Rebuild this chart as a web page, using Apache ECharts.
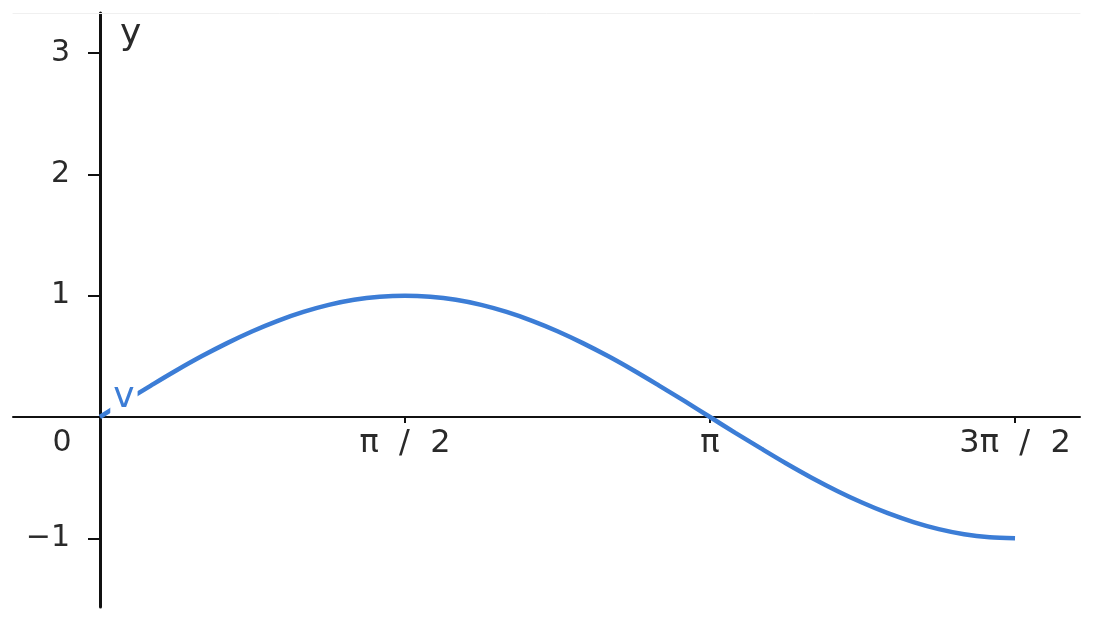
<!DOCTYPE html>
<html>
<head>
<meta charset="utf-8">
<script src="https://cdn.jsdelivr.net/npm/echarts@6/dist/echarts.min.js"></script>
<style>html,body{margin:0;padding:0;background:#fff}#c{width:1093px;height:620px}</style>
</head>
<body>
<div id="c"></div>
<script>
// x in units of pi/2
const xValues = [0, 0.083, 0.167, 0.25, 0.333, 0.417, 0.5, 0.583, 0.667, 0.75, 0.833, 0.917, 1,
  1.083, 1.167, 1.25, 1.333, 1.417, 1.5, 1.583, 1.667, 1.75, 1.833, 1.917, 2,
  2.083, 2.167, 2.25, 2.333, 2.417, 2.5, 2.583, 2.667, 2.75, 2.833, 2.917, 3];
const yValues = [0, 0.131, 0.259, 0.383, 0.5, 0.609, 0.707, 0.793, 0.866, 0.924, 0.966, 0.991, 1,
  0.991, 0.966, 0.924, 0.866, 0.793, 0.707, 0.609, 0.5, 0.383, 0.259, 0.131, 0,
  -0.131, -0.259, -0.383, -0.5, -0.609, -0.707, -0.793, -0.866, -0.924, -0.966, -0.991, -1];
const xTickValues = [0, 1, 2, 3];
const xTickLabels = ['0', 'π  /  2', 'π', '3π  /  2'];
const yTickValues = [-1, 1, 2, 3];
const yTickLabels = ['−1', '1', '2', '3'];
const curveLabel = 'v';
const axisNameY = 'y';

const points = xValues.map((x, i) => [x, yValues[i]]);

const chart = echarts.init(document.getElementById('c'));
const font = 'DejaVu Sans';
const textColor = '#2a2a2a';
chart.setOption({
  animation: false,
  grid: { left: 13, right: 13, top: 13, bottom: 13, containLabel: false, outerBoundsMode: 'none' },
  xAxis: [{
    type: 'value', min: -0.285, max: 3.213, position: 'bottom', offset: -190,
    axisLine: { onZero: false, lineStyle: { color: '#111', width: 2 } },
    axisTick: { show: true, customValues: [1, 2, 3], length: 6, lineStyle: { color: '#111', width: 2 } },
    axisLabel: {
      customValues: xTickValues, margin: 11, color: textColor, fontSize: 32, fontFamily: font,
      formatter: v => { const i = xTickValues.indexOf(v); return i === 0 ? '{z|' + xTickLabels[0] + '}' : xTickLabels[i]; },
      rich: { z: { fontSize: 30, fontFamily: font, color: textColor, padding: [0, 76, 0, 0] } }
    },
    splitLine: { show: false }
  }, {
    type: 'value', position: 'top', min: -0.285, max: 3.213,
    axisLine: { show: true, onZero: false, lineStyle: { color: '#f0f0f0', width: 1 } },
    axisTick: { show: false }, axisLabel: { show: false }, splitLine: { show: false }
  }],
  yAxis: {
    type: 'value', min: -1.566, max: 3.33, position: 'left', offset: -87,
    name: axisNameY, nameLocation: 'end', nameGap: -40,
    nameTextStyle: { align: 'left', padding: [0, 0, 0, 20], fontSize: 36, fontFamily: font, color: textColor },
    axisLine: { onZero: false, lineStyle: { color: '#111', width: 3 } },
    axisTick: { show: true, customValues: yTickValues, length: 12, lineStyle: { color: '#111', width: 2 } },
    axisLabel: {
      customValues: yTickValues, margin: 30, color: textColor, fontSize: 30, fontFamily: font,
      formatter: v => yTickLabels[yTickValues.indexOf(v)]
    },
    splitLine: { show: false }
  },
  series: [{
    type: 'line', data: points, smooth: 0.3, showSymbol: false, symbol: 'none',
    lineStyle: { color: '#3c7dd6', width: 4.5 }, z: 2,
    markPoint: {
      symbol: 'circle', symbolSize: 0, silent: true, z: 10,
      data: [{ coord: [xValues[0], yValues[0]], name: curveLabel }],
      label: { show: true, formatter: curveLabel, position: 'inside', offset: [24, -19],
        color: '#3c7dd6', fontSize: 36, fontFamily: font, backgroundColor: '#fff', padding: [0, 3, 0, 3] }
    }
  }]
});
</script>
</body>
</html>
